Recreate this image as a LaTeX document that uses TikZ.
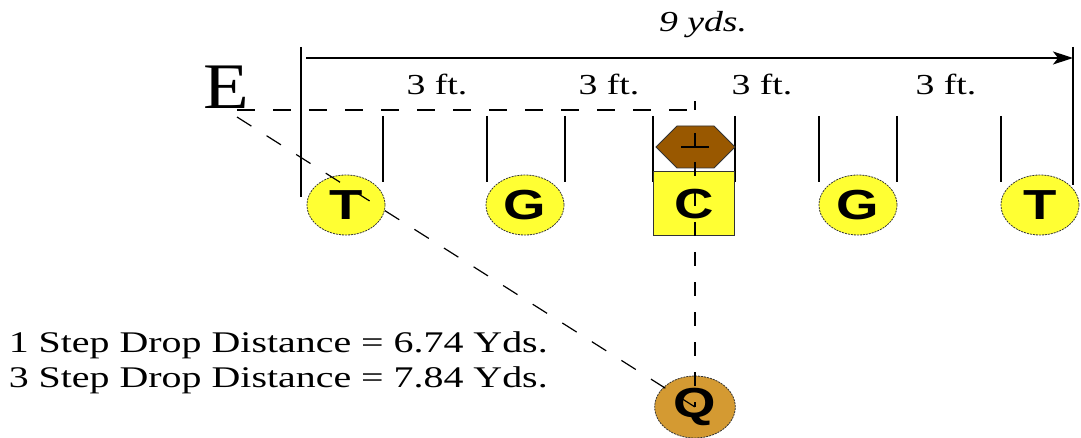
\documentclass[tikz,border=0pt]{standalone}
\usepackage{fontspec}
\setmainfont{Liberation Serif}
\newfontfamily\playerfont{Liberation Sans}
\usetikzlibrary{arrows.meta}

\definecolor{lineyellow}{RGB}{255,255,51}
\definecolor{qbgold}{RGB}{212,154,50}
\definecolor{ballbrown}{RGB}{153,88,0}

\begin{document}
\begin{tikzpicture}[x=1pt, y=-1pt, line width=1.2pt,
    player/.style={circle, minimum size=60pt, inner sep=0pt, fill=lineyellow,
        draw=black!80, line width=0.8pt, dash pattern=on 2pt off 1pt,
        font=\playerfont\bfseries\fontsize{42}{42}\selectfont, xscale=1.3},
    snapper/.style={rectangle, minimum width=63pt, minimum height=64pt,
        inner sep=0pt, fill=lineyellow, draw=black!80, line width=1pt,
        font=\playerfont\bfseries\fontsize{42}{42}\selectfont, xscale=1.3},
    dimlabel/.style={inner sep=0pt, font=\fontsize{29}{29}\selectfont, xscale=1.3},
    droptext/.style={anchor=base west, inner sep=0pt,
        font=\fontsize{30}{30}\selectfont, xscale=1.33}]
    \useasboundingbox (0,0) rectangle (1081,438);

    % 9 yd span
    \draw (301,47) -- (301,197);
    \draw (1073,47) -- (1073,185);
    \draw[-{Stealth[length=20pt,width=13pt,inset=5pt]}] (306,58) -- (1073,58);
    \node[dimlabel, font=\itshape\fontsize{29}{29}\selectfont] (span) at (703,25) {9 yds.};
    \foreach \x [count=\i] in {437,609,762,946}
        \node[dimlabel] (gap\i) at (\x,84) {3 ft.};

    % splits
    \foreach \x in {383,487,565,653,735,819,897,1001}
        \draw (\x,116) -- (\x,182);

    % ball
    \filldraw[fill=ballbrown, draw=black!80, line width=0.8pt]
        (656,147) -- (677,126) -- (714,126) -- (735,147) -- (714,168) -- (677,168) -- cycle;
    \coordinate (ball) at (695,147);

    \node[player] (lt) at (346,205) {T};
    \node[player] (lg) at (525,205) {G};
    \node[snapper] (c) at (694,204) {C};
    \node[player] (rg) at (858,205) {G};
    \node[player] (rt) at (1040,205) {T};
    \node[player, fill=qbgold, minimum size=62pt] (q) at (695,407) {Q};

    \node[inner sep=0pt, font=\fontsize{65}{65}\selectfont, xscale=1.15] (e) at (226,87) {E};
    \coordinate (eline) at (237,110);
    \coordinate (eview) at (237,117);
    \coordinate (mark) at (695,110);

    % sight lines
    \draw[dash pattern=on 18pt off 18pt] (eline) -- (mark);
    \draw (mark) -- ++(0,-9);
    \draw[dash pattern=on 17pt off 18pt] (eview) -- (q.center);
    \draw (ball) -- ++(0,-14) (ball) ++(-14,0) -- ++(28,0);
    \draw[dash pattern=on 14pt off 16pt] (ball) ++(0,15) -- (q.center);

    \node[droptext] (onestep) at (8,352) {1 Step Drop Distance = 6.74 Yds.};
    \node[droptext] (threestep) at (8,387) {3 Step Drop Distance = 7.84 Yds.};
\end{tikzpicture}
\end{document}
